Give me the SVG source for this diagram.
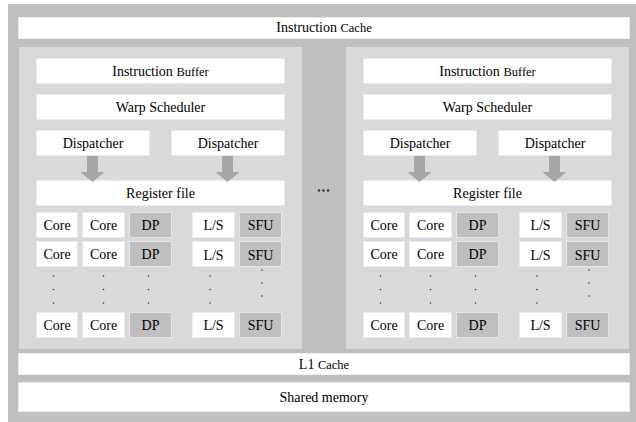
<svg xmlns="http://www.w3.org/2000/svg" width="636" height="422" viewBox="0 0 636 422" font-family="Liberation Serif, DejaVu Serif, serif">
  <style>
    text { font-family: 'Liberation Serif', 'DejaVu Serif', serif; font-size: 14px; fill: #000; text-anchor: middle; }
    .sm { font-size: 12.5px; }
    .frame { fill: #bfbfbf; }
    .panel { fill: #d9d9d9; }
    .box { fill: #ffffff; stroke: #ececec; stroke-width: 1; }
    .unit { fill: #bfbfbf; stroke: #e4e4e4; stroke-width: 1; }
    .arrow { fill: #a6a6a6; }
    .dot { fill: #3a3a3a; }
  </style>
  <defs>
    <path id="down-arrow" d="M-5.5,0 H5.5 V16 H12 L0,26 L-12,16 H-5.5 Z"/>
  </defs>

  <!-- outer chip frame -->
  <rect class="frame" x="8" y="4" width="628" height="418"/>

  <g id="instruction-cache">
    <rect class="box" x="18.5" y="17.5" width="611" height="21"/>
    <text x="324" y="32">Instruction <tspan class="sm">Cache</tspan></text>
  </g>

  <!-- streaming multiprocessor, left -->
  <g id="sm-left">
    <rect class="panel" x="19" y="47" width="283" height="302"/>
    <g id="sm-left-instruction-buffer">
      <rect class="box" x="36.5" y="58.5" width="248" height="25"/>
      <text x="160.5" y="75.5">Instruction <tspan class="sm">Buffer</tspan></text>
    </g>
    <g id="sm-left-warp-scheduler">
      <rect class="box" x="36.5" y="94.5" width="248" height="25"/>
      <text x="160.5" y="111.5">Warp Scheduler</text>
    </g>
    <g id="sm-left-dispatcher-1">
      <rect class="box" x="36.5" y="130.5" width="113" height="25"/>
      <text x="93" y="147.5">Dispatcher</text>
    </g>
    <g id="sm-left-dispatcher-2">
      <rect class="box" x="171.5" y="130.5" width="113" height="25"/>
      <text x="228" y="147.5">Dispatcher</text>
    </g>
    <g id="sm-left-register-file">
      <rect class="box" x="36.5" y="180.5" width="248" height="25"/>
      <text x="160.5" y="197.5">Register file</text>
    </g>
    <g id="sm-left-units">
      <rect class="box" x="36.5" y="212.5" width="41" height="25"/><text x="57" y="230">Core</text>
      <rect class="box" x="82.5" y="212.5" width="42" height="25"/><text x="103.5" y="230">Core</text>
      <rect class="unit" x="129.5" y="212.5" width="42" height="25"/><text x="150.5" y="230">DP</text>
      <rect class="box" x="192.5" y="212.5" width="42" height="25"/><text x="213.5" y="230">L/S</text>
      <rect class="unit" x="239.5" y="212.5" width="42" height="25"/><text x="260.5" y="230">SFU</text>

      <rect class="box" x="36.5" y="241.5" width="41" height="25"/><text x="57" y="259">Core</text>
      <rect class="box" x="82.5" y="241.5" width="42" height="25"/><text x="103.5" y="259">Core</text>
      <rect class="unit" x="129.5" y="241.5" width="42" height="25"/><text x="150.5" y="259">DP</text>
      <rect class="box" x="192.5" y="241.5" width="42" height="25"/><text x="213.5" y="260">L/S</text>
      <rect class="unit" x="239.5" y="241.5" width="42" height="25"/><text x="260.5" y="260">SFU</text>

      <rect class="box" x="36.5" y="312.5" width="41" height="25"/><text x="57" y="330">Core</text>
      <rect class="box" x="82.5" y="312.5" width="42" height="25"/><text x="103.5" y="330">Core</text>
      <rect class="unit" x="129.5" y="312.5" width="42" height="25"/><text x="150.5" y="330">DP</text>
      <rect class="box" x="192.5" y="312.5" width="42" height="25"/><text x="213.5" y="330">L/S</text>
      <rect class="unit" x="239.5" y="312.5" width="42" height="25"/><text x="260.5" y="330">SFU</text>
    </g>
    <g id="sm-left-ellipsis-dots">
      <circle class="dot" cx="53.5" cy="276" r="0.8"/><circle class="dot" cx="53.5" cy="289.5" r="0.8"/><circle class="dot" cx="53.5" cy="303" r="0.8"/>
      <circle class="dot" cx="103.5" cy="276" r="0.8"/><circle class="dot" cx="103.5" cy="289.5" r="0.8"/><circle class="dot" cx="103.5" cy="303" r="0.8"/>
      <circle class="dot" cx="148.5" cy="276" r="0.8"/><circle class="dot" cx="148.5" cy="289.5" r="0.8"/><circle class="dot" cx="148.5" cy="303" r="0.8"/>
      <circle class="dot" cx="210" cy="276" r="0.8"/><circle class="dot" cx="210" cy="289.5" r="0.8"/><circle class="dot" cx="210" cy="303" r="0.8"/>
      <circle class="dot" cx="262" cy="270" r="0.8"/><circle class="dot" cx="262" cy="283" r="0.8"/><circle class="dot" cx="262" cy="296" r="0.8"/>
    </g>
  </g>

  <!-- more multiprocessors in between -->
  <g id="sm-more" class="dot">
    <circle cx="319" cy="190.5" r="1.3"/>
    <circle cx="323.5" cy="190.5" r="1.3"/>
    <circle cx="328" cy="190.5" r="1.3"/>
  </g>

  <!-- streaming multiprocessor, right -->
  <g id="sm-right" transform="translate(327,0)">
    <rect class="panel" x="19" y="47" width="283" height="302"/>
    <g id="sm-right-instruction-buffer">
      <rect class="box" x="36.5" y="58.5" width="248" height="25"/>
      <text x="160.5" y="75.5">Instruction <tspan class="sm">Buffer</tspan></text>
    </g>
    <g id="sm-right-warp-scheduler">
      <rect class="box" x="36.5" y="94.5" width="248" height="25"/>
      <text x="160.5" y="111.5">Warp Scheduler</text>
    </g>
    <g id="sm-right-dispatcher-1">
      <rect class="box" x="36.5" y="130.5" width="113" height="25"/>
      <text x="93" y="147.5">Dispatcher</text>
    </g>
    <g id="sm-right-dispatcher-2">
      <rect class="box" x="171.5" y="130.5" width="113" height="25"/>
      <text x="228" y="147.5">Dispatcher</text>
    </g>
    <g id="sm-right-register-file">
      <rect class="box" x="36.5" y="180.5" width="248" height="25"/>
      <text x="160.5" y="197.5">Register file</text>
    </g>
    <g id="sm-right-units">
      <rect class="box" x="36.5" y="212.5" width="41" height="25"/><text x="57" y="230">Core</text>
      <rect class="box" x="82.5" y="212.5" width="42" height="25"/><text x="103.5" y="230">Core</text>
      <rect class="unit" x="129.5" y="212.5" width="42" height="25"/><text x="150.5" y="230">DP</text>
      <rect class="box" x="192.5" y="212.5" width="42" height="25"/><text x="213.5" y="230">L/S</text>
      <rect class="unit" x="239.5" y="212.5" width="42" height="25"/><text x="260.5" y="230">SFU</text>

      <rect class="box" x="36.5" y="241.5" width="41" height="25"/><text x="57" y="259">Core</text>
      <rect class="box" x="82.5" y="241.5" width="42" height="25"/><text x="103.5" y="259">Core</text>
      <rect class="unit" x="129.5" y="241.5" width="42" height="25"/><text x="150.5" y="259">DP</text>
      <rect class="box" x="192.5" y="241.5" width="42" height="25"/><text x="213.5" y="260">L/S</text>
      <rect class="unit" x="239.5" y="241.5" width="42" height="25"/><text x="260.5" y="260">SFU</text>

      <rect class="box" x="36.5" y="312.5" width="41" height="25"/><text x="57" y="330">Core</text>
      <rect class="box" x="82.5" y="312.5" width="42" height="25"/><text x="103.5" y="330">Core</text>
      <rect class="unit" x="129.5" y="312.5" width="42" height="25"/><text x="150.5" y="330">DP</text>
      <rect class="box" x="192.5" y="312.5" width="42" height="25"/><text x="213.5" y="330">L/S</text>
      <rect class="unit" x="239.5" y="312.5" width="42" height="25"/><text x="260.5" y="330">SFU</text>
    </g>
    <g id="sm-right-ellipsis-dots">
      <circle class="dot" cx="53.5" cy="276" r="0.8"/><circle class="dot" cx="53.5" cy="289.5" r="0.8"/><circle class="dot" cx="53.5" cy="303" r="0.8"/>
      <circle class="dot" cx="103.5" cy="276" r="0.8"/><circle class="dot" cx="103.5" cy="289.5" r="0.8"/><circle class="dot" cx="103.5" cy="303" r="0.8"/>
      <circle class="dot" cx="148.5" cy="276" r="0.8"/><circle class="dot" cx="148.5" cy="289.5" r="0.8"/><circle class="dot" cx="148.5" cy="303" r="0.8"/>
      <circle class="dot" cx="210" cy="276" r="0.8"/><circle class="dot" cx="210" cy="289.5" r="0.8"/><circle class="dot" cx="210" cy="303" r="0.8"/>
      <circle class="dot" cx="262" cy="270" r="0.8"/><circle class="dot" cx="262" cy="283" r="0.8"/><circle class="dot" cx="262" cy="296" r="0.8"/>
    </g>
  </g>

  <g id="l1-cache">
    <rect class="box" x="18.5" y="353.5" width="611" height="21"/>
    <text x="324" y="368.5">L1 <tspan class="sm">Cache</tspan></text>
  </g>

  <g id="shared-memory">
    <rect class="box" x="18.5" y="382.5" width="611" height="29"/>
    <text x="324" y="401.5">Shared memory</text>
  </g>

  <!-- dispatcher to register file arrows -->
  <g id="connectors">
    <use href="#down-arrow" class="arrow" x="92.5" y="156"/>
    <use href="#down-arrow" class="arrow" x="227.5" y="156"/>
    <use href="#down-arrow" class="arrow" x="419.5" y="156"/>
    <use href="#down-arrow" class="arrow" x="554.5" y="156"/>
  </g>
</svg>
